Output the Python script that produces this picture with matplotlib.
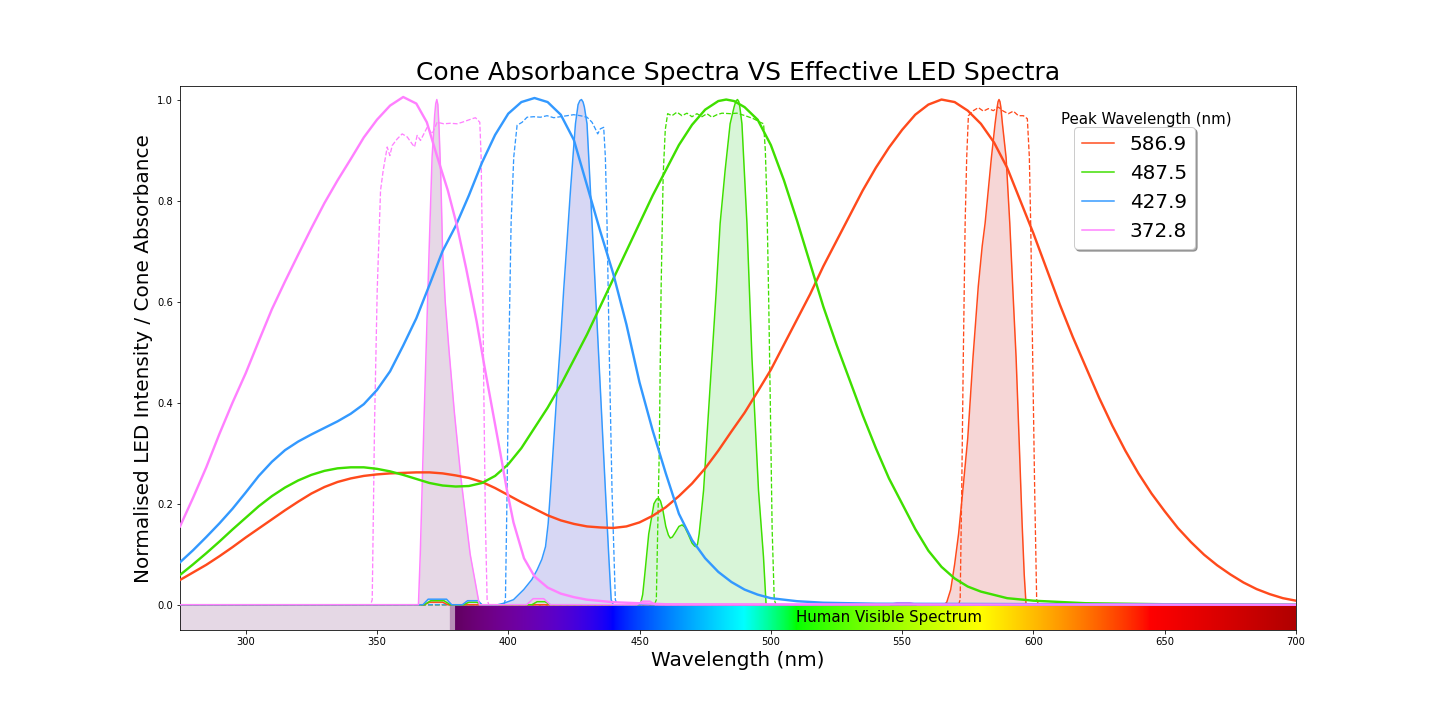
import numpy as np
import matplotlib
matplotlib.use("Agg")
import matplotlib.pyplot as plt

# legend labels = LED peak wavelengths (nm)
led_peaks = ["586.9", "487.5", "427.9", "372.8"]
line_colours = ["#ff4a1c", "#3fdf00", "#3399ff", "#ff80ff"]
fill_colours = ["#f6d6d6", "#d8f5d8", "#d7d7f4", "#e6d8e6"]

# --- cone absorbance spectra ---
red_cone_wl = [275, 280, 285, 290, 295, 300, 305, 310, 315, 320, 325, 330, 335, 340, 345, 350, 355,
               360, 365, 370, 375, 380, 385, 390, 395, 400, 405, 410, 415, 420, 425, 430, 435, 440,
               445, 450, 455, 460, 465, 470, 475, 480, 485, 490, 495, 500, 505, 510, 515, 520, 525,
               530, 535, 540, 545, 550, 555, 560, 565, 570, 575, 580, 585, 590, 595, 600, 605, 610,
               615, 620, 625, 630, 635, 640, 645, 650, 655, 660, 665, 670, 675, 680, 685, 690, 695,
               700]
red_cone = [0.049, 0.064, 0.079, 0.096, 0.114, 0.133, 0.151, 0.169, 0.187, 0.204, 0.22, 0.233,
            0.243, 0.25, 0.255, 0.258, 0.26, 0.261, 0.262, 0.262, 0.26, 0.256, 0.251, 0.243, 0.231,
            0.217, 0.203, 0.19, 0.177, 0.167, 0.16, 0.155, 0.153, 0.152, 0.155, 0.163, 0.176,
            0.193, 0.215, 0.24, 0.27, 0.305, 0.343, 0.38, 0.422, 0.465, 0.515, 0.565, 0.615, 0.67,
            0.72, 0.77, 0.82, 0.865, 0.905, 0.94, 0.97, 0.99, 1.0, 0.995, 0.978, 0.952, 0.915,
            0.865, 0.8, 0.735, 0.665, 0.595, 0.53, 0.47, 0.41, 0.355, 0.305, 0.26, 0.22, 0.185,
            0.152, 0.124, 0.099, 0.078, 0.06, 0.044, 0.031, 0.021, 0.013, 0.008]

green_cone_wl = [275, 280, 285, 290, 295, 300, 305, 310, 315, 320, 325, 330, 335, 340, 345, 350,
                 355, 360, 365, 370, 375, 380, 385, 390, 395, 400, 405, 410, 415, 420, 425, 430,
                 435, 440, 445, 450, 455, 460, 465, 470, 475, 480, 483, 486, 490, 495, 500, 505,
                 510, 515, 520, 525, 530, 535, 540, 545, 550, 555, 560, 565, 570, 575, 580, 590,
                 600, 620, 650, 700]
green_cone = [0.059, 0.08, 0.102, 0.125, 0.149, 0.172, 0.195, 0.215, 0.232, 0.246, 0.257, 0.265,
              0.27, 0.272, 0.272, 0.269, 0.264, 0.257, 0.249, 0.241, 0.236, 0.234, 0.235, 0.241,
              0.255, 0.278, 0.31, 0.35, 0.39, 0.435, 0.485, 0.535, 0.59, 0.645, 0.7, 0.755, 0.81,
              0.86, 0.91, 0.95, 0.98, 0.997, 1.0, 0.997, 0.985, 0.96, 0.91, 0.84, 0.76, 0.675,
              0.59, 0.515, 0.445, 0.375, 0.31, 0.25, 0.2, 0.15, 0.107, 0.075, 0.052, 0.036,
              0.026, 0.013, 0.008, 0.003, 0.001, 0.0]

blue_cone_wl = [275, 280, 285, 290, 295, 300, 305, 310, 315, 320, 325, 330, 335, 340, 345, 350,
                355, 360, 365, 370, 375, 380, 385, 390, 395, 400, 405, 410, 415, 420, 425, 430,
                435, 440, 445, 450, 455, 460, 465, 470, 475, 480, 485, 490, 495, 500, 510, 520,
                540, 700]
blue_cone = [0.084, 0.108, 0.134, 0.161, 0.19, 0.222, 0.255, 0.283, 0.306, 0.323, 0.337, 0.35,
             0.363, 0.378, 0.397, 0.425, 0.462, 0.513, 0.567, 0.633, 0.7, 0.75, 0.81, 0.875, 0.93,
             0.972, 0.995, 1.003, 0.995, 0.97, 0.92, 0.83, 0.74, 0.655, 0.555, 0.44, 0.345, 0.26,
             0.18, 0.128, 0.092, 0.065, 0.045, 0.03, 0.02, 0.013, 0.007, 0.004, 0.002, 0.0]

pink_cone_wl = [275, 280, 285, 290, 295, 300, 305, 310, 315, 320, 325, 330, 335, 340, 345, 350,
                355, 360, 365, 369, 373, 377, 380.5, 384, 388, 391, 394, 397, 399.5, 402, 406, 410,
                415, 420, 425, 430, 440, 460, 700]
pink_cone = [0.155, 0.212, 0.272, 0.338, 0.4, 0.458, 0.522, 0.585, 0.64, 0.693, 0.745, 0.795,
             0.84, 0.882, 0.925, 0.96, 0.988, 1.005, 0.992, 0.955, 0.886, 0.82, 0.75, 0.665, 0.56,
             0.47, 0.385, 0.3, 0.227, 0.163, 0.092, 0.056, 0.034, 0.022, 0.015, 0.01, 0.005,
             0.001, 0.0]

# --- effective LED spectra (solid, filled) ---
red_led_wl = [275, 368, 370, 375, 377, 566, 567, 568.5, 570, 571.5, 573, 575, 577, 579, 580.5,
              581.6, 582.8, 584, 585.4, 586.2, 586.55, 586.9, 587.25, 587.6, 588.2, 589.6, 591,
              592.2, 593.4, 594.6, 595.7, 596.5, 597.2, 700]
red_led = [0, 0, 0.005, 0.005, 0, 0, 0.005, 0.03, 0.08, 0.14, 0.22, 0.33, 0.49, 0.63, 0.71, 0.755,
           0.82, 0.885, 0.952, 0.985, 0.996, 1.0, 0.996, 0.985, 0.952, 0.885, 0.755, 0.62, 0.49,
           0.32, 0.16, 0.06, 0.0, 0]

green_led_wl = [275, 368, 370.5, 375.5, 378, 383, 385, 388, 390, 409, 411, 414, 416, 450.3, 451.2,
                452, 453.5, 455.5, 456.5, 457.3, 458, 458.8, 460, 461, 461.7, 462.5, 463.5, 465,
                466.2, 467.2, 468.5, 470, 471, 471.5, 472.1, 472.7, 473.5, 474.4, 476, 477.6,
                479.2, 480.7, 482.6, 484.5, 486, 486.7, 487.3, 487.8, 488.2, 489, 490.9, 492.8,
                495.3, 497.2, 498.2, 700]
green_led = [0, 0, 0.008, 0.008, 0, 0, 0.005, 0.005, 0, 0, 0.006, 0.006, 0, 0, 0.02, 0.06, 0.14,
             0.2, 0.209, 0.211, 0.205, 0.19, 0.155, 0.138, 0.132, 0.134, 0.142, 0.155, 0.158,
             0.154, 0.14, 0.122, 0.116, 0.115, 0.12, 0.14, 0.18, 0.227, 0.36, 0.49, 0.62, 0.755,
             0.86, 0.952, 0.985, 0.997, 1.0, 0.996, 0.985, 0.952, 0.755, 0.49, 0.227, 0.095, 0,
             0]

blue_led_wl = [275, 367.5, 369.5, 376.5, 378.5, 382.5, 384.5, 388.5, 390, 396, 398.3, 402, 405.9,
               409, 411, 412.8, 414.2, 415.2, 416.1, 417.4, 418.6, 419.9, 421.1, 422.4, 423.7,
               424.7, 425.6, 426.6, 427.3, 427.9, 428.5, 429, 430, 431.3, 433.2, 435.1, 437,
               438.3, 439.2, 440, 700]
blue_led = [0, 0, 0.011, 0.011, 0, 0, 0.008, 0.008, 0, 0, 0.003, 0.01, 0.03, 0.05, 0.069, 0.09,
            0.115, 0.16, 0.227, 0.33, 0.425, 0.52, 0.622, 0.72, 0.82, 0.89, 0.952, 0.99, 0.998,
            1.0, 0.995, 0.985, 0.952, 0.82, 0.622, 0.425, 0.227, 0.095, 0.01, 0, 0]

pink_led_wl = [275, 365.8, 366.5, 367.9, 369.8, 371, 372, 372.4, 372.8, 373.2, 373.6, 374.3, 375,
               376, 377.5, 379.5, 382, 385.5, 389, 407, 409.5, 413.5, 416, 449, 451, 454, 456,
               545, 548, 553, 556, 700]
pink_led = [0, 0, 0.1, 0.36, 0.69, 0.886, 0.97, 0.992, 1.0, 0.99, 0.95, 0.85, 0.7, 0.6, 0.5, 0.38,
            0.25, 0.1, 0, 0, 0.012, 0.012, 0, 0, 0.007, 0.007, 0, 0, 0.004, 0.004, 0, 0]

# --- filter transmission (dashed) ---
red_filter_wl = [275, 571.5, 572.1, 572.7, 573.3, 574.0, 574.6, 575.24, 577.14, 579.04, 580.95,
                 582.85, 584.75, 586.66, 588.56, 590.46, 592.36, 594.27, 596.17, 597.69, 598.45,
                 598.96, 599.72, 600.48, 601.24, 602, 700]
red_filter = [0, 0, 0.01, 0.227, 0.49, 0.755, 0.886, 0.968, 0.978, 0.984, 0.977, 0.982, 0.978,
              0.985, 0.977, 0.972, 0.977, 0.968, 0.968, 0.962, 0.886, 0.755, 0.49, 0.227, 0.01, 0,
              0]

green_filter_wl = [275, 455.7, 456.4, 457.5, 458.2, 459.0, 459.8, 460.71, 462.36, 464.26, 466.16,
                   468.06, 469.97, 471.87, 473.77, 475.67, 477.58, 479.48, 481.38, 484.55,
                   487.09, 490.26, 493.43, 495.97, 497.24, 497.9, 498.5, 499.2, 499.8, 500.5,
                   501.3, 502, 700]
green_filter = [0, 0, 0.01, 0.3, 0.62, 0.85, 0.94, 0.972, 0.968, 0.975, 0.968, 0.973, 0.966,
                0.972, 0.966, 0.972, 0.965, 0.97, 0.973, 0.972, 0.973, 0.968, 0.962, 0.955, 0.952,
                0.9, 0.8, 0.6, 0.4, 0.15, 0.01, 0, 0]

blue_filter_wl = [275, 398.3, 398.93, 399.57, 400.2, 401.09, 402.1, 403.37, 405.28, 407.18,
                  409.72, 412.25, 414.79, 417.33, 419.86, 422.4, 424.94, 427.47, 430.01, 431.91,
                  433.18, 434.07, 435.08, 436.35, 436.99, 437.62, 438.51, 439.52, 440.79, 441.5,
                  700]
blue_filter = [0, 0, 0.01, 0.227, 0.49, 0.755, 0.886, 0.949, 0.955, 0.965, 0.966, 0.965, 0.968,
               0.964, 0.966, 0.968, 0.97, 0.968, 0.965, 0.955, 0.942, 0.932, 0.942, 0.945, 0.886,
               0.755, 0.49, 0.227, 0.01, 0, 0]

pink_filter_wl = [275, 347.6, 348.2, 349.09, 350.1, 351.37, 352.39, 353.91, 354.92, 355.81,
                  357.71, 359.61, 361.52, 363.42, 364.31, 365.32, 366.59, 367.86, 369.13, 371.03,
                  372.93, 375.47, 378.01, 380.54, 382.44, 384.35, 386.25, 387.52, 389.17, 389.68,
                  390.18, 390.69, 391.32, 391.96, 392.6, 700]
pink_filter = [0, 0, 0.01, 0.359, 0.6225, 0.82, 0.86, 0.906, 0.889, 0.909, 0.922, 0.932, 0.926,
               0.912, 0.906, 0.929, 0.919, 0.932, 0.945, 0.932, 0.955, 0.952, 0.953, 0.952, 0.955,
               0.9585, 0.962, 0.964, 0.955, 0.886, 0.688, 0.425, 0.161, 0.01, 0, 0]

cones = [(red_cone_wl, red_cone), (green_cone_wl, green_cone),
         (blue_cone_wl, blue_cone), (pink_cone_wl, pink_cone)]
leds = [(red_led_wl, red_led), (green_led_wl, green_led),
        (blue_led_wl, blue_led), (pink_led_wl, pink_led)]
filters = [(red_filter_wl, red_filter), (green_filter_wl, green_filter),
           (blue_filter_wl, blue_filter), (pink_filter_wl, pink_filter)]


def wavelength_to_rgb(w, gamma=0.8):
    # colour of the strip below the plot
    if w < 378:
        return (0.90, 0.85, 0.90)
    if w < 380:
        return (0.72, 0.56, 0.72)
    if w < 440:
        att = 0.3 + 0.7 * (w - 380) / 60
        return (((440 - w) / 60 * att) ** gamma, 0.0, att ** gamma)
    if w < 490:
        return (0.0, ((w - 440) / 50) ** gamma, 1.0)
    if w < 510:
        return (0.0, 1.0, ((510 - w) / 20) ** gamma)
    if w < 580:
        return (((w - 510) / 70) ** gamma, 1.0, 0.0)
    if w < 645:
        return (1.0, ((645 - w) / 65) ** gamma, 0.0)
    att = 0.3 + 0.7 * (750 - w) / 105
    return (att ** gamma, 0.0, 0.0)


fig = plt.figure(figsize=(20, 10), dpi=72)
ax = fig.add_subplot(111)
fig.subplots_adjust(left=0.125, right=0.9, top=0.88, bottom=0.125)

strip_wl = np.arange(275, 701, 0.5)
strip = np.array([wavelength_to_rgb(w) for w in strip_wl])
ax.imshow(strip[np.newaxis, :, :], extent=[275, 700, -0.05, 0], aspect='auto', zorder=0)
ax.text(545, -0.025, "Human Visible Spectrum", fontsize=15, ha='center', va='center')

handles = []
for (fw, fv), (lw_, lv), (cw, cv), col, fcol in zip(filters, leds, cones, line_colours, fill_colours):
    ax.fill_between(lw_, lv, 0, color=fcol, zorder=1, linewidth=0)
    ax.plot(fw, fv, '--', color=col, lw=1.3, zorder=2)
    h, = ax.plot(lw_, lv, '-', color=col, lw=1.5, zorder=3)
    ax.plot(cw, cv, '-', color=col, lw=2.4, zorder=4)
    handles.append(h)

ax.set_xlim(275, 700)
ax.set_ylim(-0.05, 1.026)
ax.set_title("Cone Absorbance Spectra VS Effective LED Spectra", fontsize=25)
ax.set_xlabel("Wavelength (nm)", fontsize=20)
ax.set_ylabel("Normalised LED Intensity / Cone Absorbance", fontsize=20)

ax.legend(handles, led_peaks, loc='upper left', bbox_to_anchor=(0.801, 0.925),
          borderaxespad=0, fontsize=20, handlelength=1.6, shadow=True, fancybox=True,
          framealpha=1)
ax.text(0.8656, 0.93, "Peak Wavelength (nm)", fontsize=15, ha='center', va='baseline',
        transform=ax.transAxes)

fig.savefig("out.png", dpi=72)
